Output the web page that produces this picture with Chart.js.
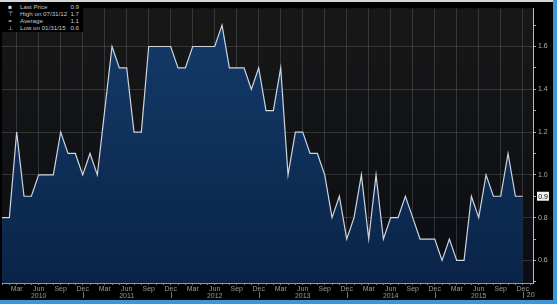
<!DOCTYPE html>
<html>
<head>
<meta charset="utf-8">
<script src="https://cdn.jsdelivr.net/npm/chart.js@4.4.1/dist/chart.umd.min.js"></script>
<style>
html, body { margin: 0; padding: 0; width: 557px; height: 304px; background: #3d96d8; overflow: hidden; }
#wrap { position: absolute; left: 0; top: 0; width: 553px; height: 300px; background: #000; border-top: 2px solid #d6d6d6; box-sizing: border-box; }
canvas { display: block; }
#legend { position: absolute; left: 0; top: 0; width: 83px; height: 30px; background: #000;
  font: 6.2px "Liberation Sans", Arial, sans-serif; color: #c8c8c8; padding-top: 2px; box-sizing: border-box; }
#legend .row { position: relative; height: 6.9px; line-height: 6.9px; white-space: nowrap; }
#legend .ic { position: absolute; left: 6px; width: 8px; text-align: center; color: #ddd; }
#legend .lb { position: absolute; left: 20px; }
#legend .v { position: absolute; right: 4px; }
</style>
</head>
<body>
<div id="wrap">
  <canvas id="c" width="553" height="298"></canvas>
  <div id="legend"></div>
</div>
<script>
// monthly values, Jan 2010 .. Dec 2015
const months = ['Jan','Feb','Mar','Apr','May','Jun','Jul','Aug','Sep','Oct','Nov','Dec'];
const years = [2010, 2011, 2012, 2013, 2014, 2015];
const values2010 = [0.8, 0.8, 1.2, 0.9, 0.9, 1.0, 1.0, 1.0, 1.2, 1.1, 1.1, 1.0];
const values2011 = [1.1, 1.0, 1.3, 1.6, 1.5, 1.5, 1.2, 1.2, 1.6, 1.6, 1.6, 1.6];
const values2012 = [1.5, 1.5, 1.6, 1.6, 1.6, 1.6, 1.7, 1.5, 1.5, 1.5, 1.4, 1.5];
const values2013 = [1.3, 1.3, 1.5, 1.0, 1.2, 1.2, 1.1, 1.1, 1.0, 0.8, 0.9, 0.7];
const values2014 = [0.8, 1.0, 0.7, 1.0, 0.7, 0.8, 0.8, 0.9, 0.8, 0.7, 0.7, 0.7];
const values2015 = [0.6, 0.7, 0.6, 0.6, 0.9, 0.8, 1.0, 0.9, 0.9, 1.1, 0.9, 0.9];
const labelMonths = [2, 5, 8, 11]; // Mar Jun Sep Dec
const yLabels = [0.6, 0.8, 1.0, 1.2, 1.4, 1.6];

const legendRows = [
  ['\u25A0', 'Last Price', '0.9'],
  ['\u22A4', 'High on 07/31/12', '1.7'],
  ['=', 'Average', '1.1'],
  ['\u22A5', 'Low on 01/31/15', '0.6']
];
const lastPrice = 0.9;

const allValues = [].concat(values2010, values2011, values2012, values2013, values2014, values2015);
const points = allValues.map((v, i) => ({ x: i, y: v }));

// legend box
const lg = document.getElementById('legend');
legendRows.forEach(r => {
  const d = document.createElement('div');
  d.className = 'row';
  d.innerHTML = '<span class="ic">' + r[0] + '</span><span class="lb">' + r[1] + '</span><span class="v">' + r[2] + '</span>';
  lg.appendChild(d);
});

const isLabelled = v => v < allValues.length && labelMonths.includes(v % 12);
const isMajorY = v => Math.round(v * 10) % 2 === 0;
const gridCol = 'rgba(255,255,255,0.14)';
const font = { family: '"Liberation Sans", Arial, sans-serif', size: 7 };

// plot background + extra axis bits
const extras = {
  id: 'extras',
  beforeDraw(chart) {
    const a = chart.chartArea, c = chart.ctx;
    const g = c.createLinearGradient(0, a.top, 0, a.bottom);
    g.addColorStop(0, '#181818');
    g.addColorStop(1, '#0a0d13');
    c.save();
    c.fillStyle = g;
    c.fillRect(a.left, a.top, a.right - a.left, a.bottom - a.top);
    c.restore();
  },
  afterDraw(chart) {
    const a = chart.chartArea, c = chart.ctx;
    const xs = chart.scales.x, ys = chart.scales.y;
    c.save();
    // year separators under Dec
    c.strokeStyle = '#777';
    c.lineWidth = 1;
    for (let i = 11; i < allValues.length; i += 12) {
      const px = Math.round(xs.getPixelForValue(i)) + 0.5;
      c.beginPath();
      c.moveTo(px, a.bottom + 9);
      c.lineTo(px, a.bottom + 15);
      c.stroke();
    }
    c.fillStyle = '#9a9a9a';
    c.font = '7px "Liberation Sans", Arial, sans-serif';
    c.textBaseline = 'middle';
    c.fillText('20', xs.getPixelForValue(allValues.length - 1) + 4, a.bottom + 12);
    // last price tag
    const py = ys.getPixelForValue(lastPrice);
    c.fillStyle = '#f2f2f2';
    c.fillRect(a.right + 4, py - 4.5, 12, 9);
    c.fillStyle = '#000';
    c.textAlign = 'center';
    c.fillText(lastPrice.toFixed(1), a.right + 10, py + 0.5);
    c.restore();
  }
};

new Chart(document.getElementById('c'), {
  type: 'line',
  data: {
    datasets: [{
      data: points,
      borderColor: '#cdd5df',
      borderWidth: 1.2,
      pointRadius: 0,
      tension: 0,
      fill: 'start',
      backgroundColor: ctx => {
        const a = ctx.chart.chartArea;
        if (!a) return '#0d2b52';
        const g = ctx.chart.ctx.createLinearGradient(0, a.top, 0, a.bottom);
        g.addColorStop(0, '#143c6c');
        g.addColorStop(1, '#0a2447');
        return g;
      }
    }]
  },
  options: {
    responsive: false,
    animation: false,
    layout: { padding: { left: 2, top: 1, right: 0, bottom: 0 } },
    plugins: { legend: { display: false }, tooltip: { enabled: false } },
    scales: {
      x: {
        type: 'linear',
        min: 0,
        max: 72.4,
        z: 1,
        afterBuildTicks: s => {
          const t = [];
          for (let i = 0; i <= 72; i++) t.push({ value: i });
          s.ticks = t;
        },
        afterFit: s => { s.height = 17; },
        ticks: {
          autoSkip: false,
          maxRotation: 0,
          padding: 1,
          color: '#9a9a9a',
          font: { family: font.family, size: 7, lineHeight: 0.95 },
          callback: v => {
            if (!isLabelled(v)) return '';
            const m = v % 12;
            if (m === 5) return [months[m], String(years[Math.floor(v / 12)])];
            return months[m];
          }
        },
        grid: {
          color: c => isLabelled(c.tick.value) ? gridCol : 'rgba(0,0,0,0)',
          drawTicks: true,
          tickLength: 2,
          tickColor: '#777'
        },
        border: { display: true, color: '#9a9a9a', width: 1 }
      },
      y: {
        position: 'right',
        min: 0.4945,
        max: 1.779,
        z: 1,
        afterBuildTicks: s => {
          const t = [];
          for (let k = 5; k <= 17; k++) t.push({ value: k / 10 });
          s.ticks = t;
        },
        afterFit: s => { s.width = 20; },
        ticks: {
          padding: 2,
          color: '#b0b0b0',
          font: font,
          callback: v => (isMajorY(v) && yLabels.includes(Math.round(v * 10) / 10)) ? v.toFixed(1) : ''
        },
        grid: {
          color: c => isMajorY(c.tick.value) ? gridCol : 'rgba(0,0,0,0)',
          drawTicks: true,
          tickLength: 3,
          tickColor: '#aaa'
        },
        border: { display: true, color: '#bbb', width: 1 }
      }
    }
  },
  plugins: [extras]
});
</script>
</body>
</html>
